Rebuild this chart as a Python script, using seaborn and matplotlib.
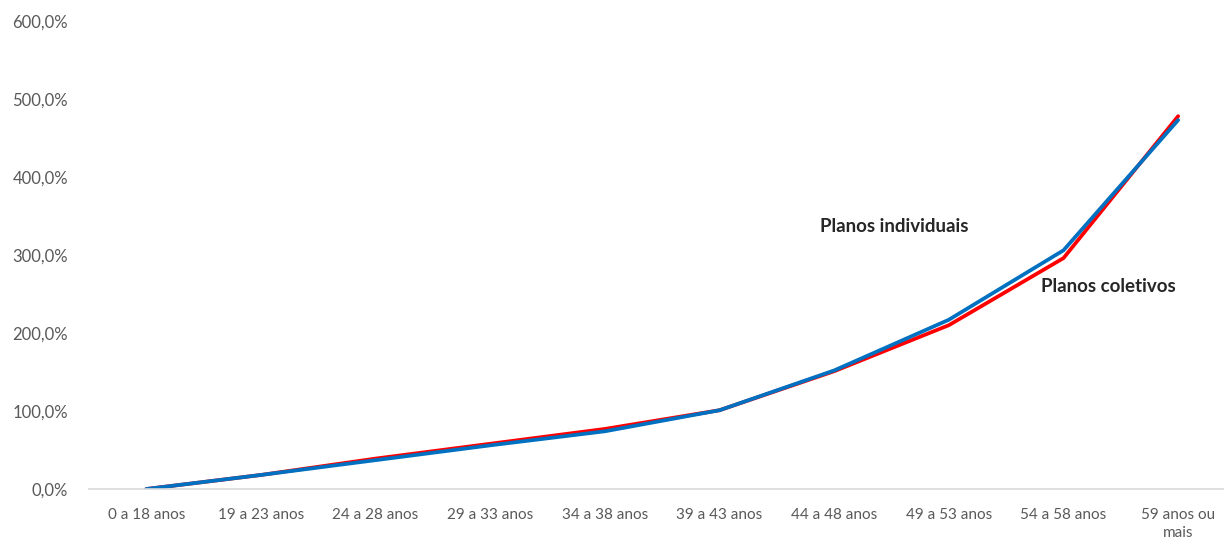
import matplotlib
matplotlib.use("Agg")
import matplotlib.pyplot as plt
import seaborn as sns
import pandas as pd

categories = ["0 a 18 anos", "19 a 23 anos", "24 a 28 anos", "29 a 33 anos",
              "34 a 38 anos", "39 a 43 anos", "44 a 48 anos", "49 a 53 anos",
              "54 a 58 anos", "59 anos ou\nmais"]
coletivos = [0, 18, 39, 58, 77, 101, 151, 210, 296, 478]
individuais = [0, 18, 37, 56, 74, 101, 152, 217, 306, 473]

sns.set_theme(style="white")
plt.rcParams['font.family'] = ['Lato', 'DejaVu Sans']

df = pd.DataFrame({
    "x": list(range(len(categories))) * 2,
    "valor": coletivos + individuais,
    "serie": ["Planos coletivos"] * len(categories) + ["Planos individuais"] * len(categories),
})

fig = plt.figure(figsize=(12.24, 5.41), dpi=100)
ax = fig.add_axes([89/1224, 52/541, 1 - 89/1224, (489-21)/541])
sns.lineplot(data=df, x="x", y="valor", hue="serie",
             palette={"Planos coletivos": "#FF0000", "Planos individuais": "#0070C0"},
             linewidth=2.7, legend=False, ax=ax)

ax.set_xlim(-0.5, 9.4)
ax.set_ylim(0, 600)
ax.set_yticks(range(0, 601, 100))
ax.set_yticklabels([f"{v},0%" for v in range(0, 601, 100)])
ax.set_xticks(range(len(categories)))
ax.set_xticklabels(categories, linespacing=1.35)
ax.set_xlabel("")
ax.set_ylabel("")
for s in ["top", "right", "left"]:
    ax.spines[s].set_visible(False)
ax.spines["bottom"].set_color("#d9d9d9")
ax.spines["bottom"].set_linewidth(1.2)
ax.tick_params(axis="both", length=0, colors="#595959")
ax.tick_params(axis="x", labelsize=11, pad=14)
ax.tick_params(axis="y", labelsize=12, pad=15)
ax.grid(False)

ax.text(5.88, 337, "Planos individuais", fontsize=13.5, fontweight="bold", color="#262626",
        ha="left", va="center")
ax.text(7.80, 260, "Planos coletivos", fontsize=13.5, fontweight="bold", color="#262626",
        ha="left", va="center")

fig.savefig("out.png", dpi=100)
